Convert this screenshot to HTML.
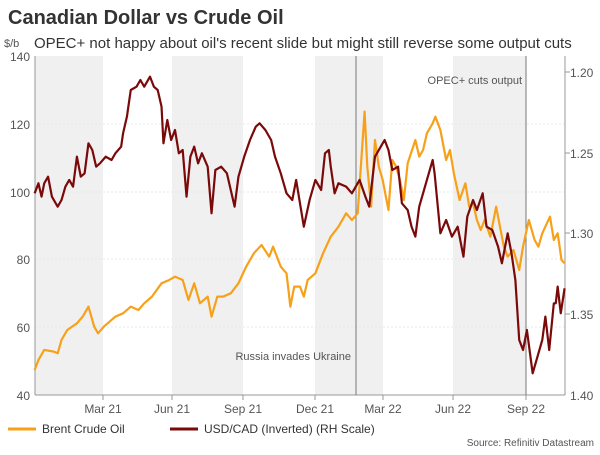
<!DOCTYPE html>
<html><head><meta charset="utf-8"><style>
body{margin:0;background:#fff;}
svg{font-family:"Liberation Sans",Arial,sans-serif;}
</style></head><body>
<svg width="600" height="450" viewBox="0 0 600 450" xmlns="http://www.w3.org/2000/svg">
<rect width="600" height="450" fill="#fff"/>
<text x="8" y="24" font-size="20" font-weight="bold" fill="#333">Canadian Dollar vs Crude Oil</text>
<text x="4" y="47" font-size="11" fill="#555">$/b</text>
<text x="34" y="48" font-size="15" fill="#333">OPEC+ not happy about oil's recent slide but might still reverse some output cuts</text>
<!-- shaded bands -->
<rect x="35" y="56" width="68" height="339" fill="#f0f0f0"/>
<rect x="172" y="56" width="71" height="339" fill="#f0f0f0"/>
<rect x="315" y="56" width="68" height="339" fill="#f0f0f0"/>
<rect x="453" y="56" width="73" height="339" fill="#f0f0f0"/>
<!-- grid -->
<g stroke="#e4e4e4" stroke-width="0.7" stroke-dasharray="2,2">
<line x1="35" x2="565" y1="124" y2="124"/><line x1="35" x2="565" y1="192" y2="192"/>
<line x1="35" x2="565" y1="259" y2="259"/><line x1="35" x2="565" y1="327" y2="327"/>
</g>
<!-- axes -->
<line x1="35" y1="56" x2="35" y2="395" stroke="#999"/>
<line x1="565" y1="56" x2="565" y2="395" stroke="#999"/>
<line x1="35" y1="395" x2="565" y2="395" stroke="#999"/>
<g stroke="#999"><line x1="103" y1="395" x2="103" y2="400"/><line x1="172" y1="395" x2="172" y2="400"/><line x1="243" y1="395" x2="243" y2="400"/><line x1="315" y1="395" x2="315" y2="400"/><line x1="383" y1="395" x2="383" y2="400"/><line x1="453" y1="395" x2="453" y2="400"/><line x1="526" y1="395" x2="526" y2="400"/>
<line x1="565" y1="72" x2="570" y2="72"/><line x1="565" y1="153" x2="570" y2="153"/><line x1="565" y1="233" x2="570" y2="233"/><line x1="565" y1="314" x2="570" y2="314"/></g>
<!-- event lines -->
<line x1="356" y1="56" x2="356" y2="395" stroke="#777" stroke-width="1"/>
<line x1="526" y1="56" x2="526" y2="395" stroke="#777" stroke-width="1"/>
<text x="522" y="84" font-size="11" fill="#555" text-anchor="end">OPEC+ cuts output</text>
<text x="351" y="360" font-size="11" fill="#555" text-anchor="end">Russia invades Ukraine</text>
<!-- left labels -->
<g font-size="12" fill="#555" text-anchor="end">
<text x="30" y="61">140</text><text x="30" y="129">120</text><text x="30" y="197">100</text><text x="30" y="264">80</text><text x="30" y="332">60</text><text x="30" y="400">40</text>
</g>
<g font-size="12" fill="#555">
<text x="570" y="77">1.20</text><text x="570" y="158">1.25</text><text x="570" y="238">1.30</text><text x="570" y="319">1.35</text><text x="570" y="400">1.40</text>
</g>
<g font-size="12" fill="#555" text-anchor="middle">
<text x="103" y="413">Mar 21</text><text x="172" y="413">Jun 21</text><text x="243" y="413">Sep 21</text><text x="315" y="413">Dec 21</text><text x="383" y="413">Mar 22</text><text x="453" y="413">Jun 22</text><text x="526" y="413">Sep 22</text>
</g>
<g transform="translate(0,40) scale(0.3846,0.3333)" fill="none" stroke-linejoin="round">
<polyline vector-effect="non-scaling-stroke" stroke="#f7a11a" stroke-width="2.2" points="90,990 100,960 115,930 140,935 150,940 160,900 175,870 200,850 215,830 230,800 245,860 255,880 270,860 290,840 300,830 320,820 340,800 360,810 375,790 395,770 420,730 440,720 455,710 475,720 490,780 505,730 520,790 540,770 550,830 565,770 580,770 600,760 620,730 640,680 660,640 680,615 700,650 710,620 730,680 745,700 755,800 765,740 780,740 790,770 800,720 820,700 840,640 860,590 880,560 900,520 915,540 930,520 940,350 948,215 955,380 965,500 975,300 985,380 995,420 1010,510 1020,360 1030,380 1040,420 1050,480 1060,370 1080,300 1090,350 1100,330 1110,280 1125,250 1132,230 1145,270 1160,360 1170,330 1180,400 1195,480 1210,430 1220,500 1230,490 1240,540 1250,570 1260,540 1275,590 1290,500 1300,560 1310,620 1320,650 1335,630 1350,690 1360,620 1375,540 1390,600 1400,620 1410,580 1430,530 1440,600 1450,580 1460,660 1468,670"/>
<polyline vector-effect="non-scaling-stroke" stroke="#7a0a0a" stroke-width="2.2" points="90,460 100,430 108,470 115,430 125,410 135,470 150,500 160,480 170,440 180,420 190,440 200,350 210,410 220,400 230,310 240,330 250,380 260,370 275,350 290,360 300,340 315,320 320,280 330,230 340,150 355,140 365,120 375,140 390,110 400,140 410,150 420,200 425,310 435,240 445,300 455,270 465,340 475,330 485,470 495,350 505,320 515,370 525,340 540,380 550,520 560,390 575,380 590,400 610,500 620,410 635,350 650,300 665,260 675,250 690,270 705,300 715,350 730,400 745,460 760,480 770,420 790,560 805,480 820,420 835,450 845,340 855,330 860,380 870,460 880,430 900,440 915,460 935,420 950,470 960,500 975,350 990,320 1000,300 1010,330 1020,390 1035,380 1045,490 1060,510 1070,560 1080,590 1090,500 1110,420 1125,360 1130,400 1145,580 1160,540 1175,590 1190,560 1205,650 1215,530 1230,480 1240,510 1255,460 1265,560 1280,570 1295,620 1305,670 1320,580 1330,640 1340,720 1350,900 1360,930 1370,870 1385,1000 1400,940 1410,900 1418,830 1428,930 1440,790 1445,790 1450,740 1458,820 1468,745"/>
</g>
<!-- legend -->
<line x1="8" y1="429" x2="36" y2="429" stroke="#f7a11a" stroke-width="3"/>
<text x="42" y="433" font-size="12" fill="#333">Brent Crude Oil</text>
<line x1="170" y1="429" x2="198" y2="429" stroke="#7a0a0a" stroke-width="3"/>
<text x="204" y="433" font-size="12" fill="#333">USD/CAD (Inverted) (RH Scale)</text>
<text x="594" y="446" font-size="10" fill="#555" text-anchor="end">Source: Refinitiv Datastream</text>
</svg>
</body></html>
